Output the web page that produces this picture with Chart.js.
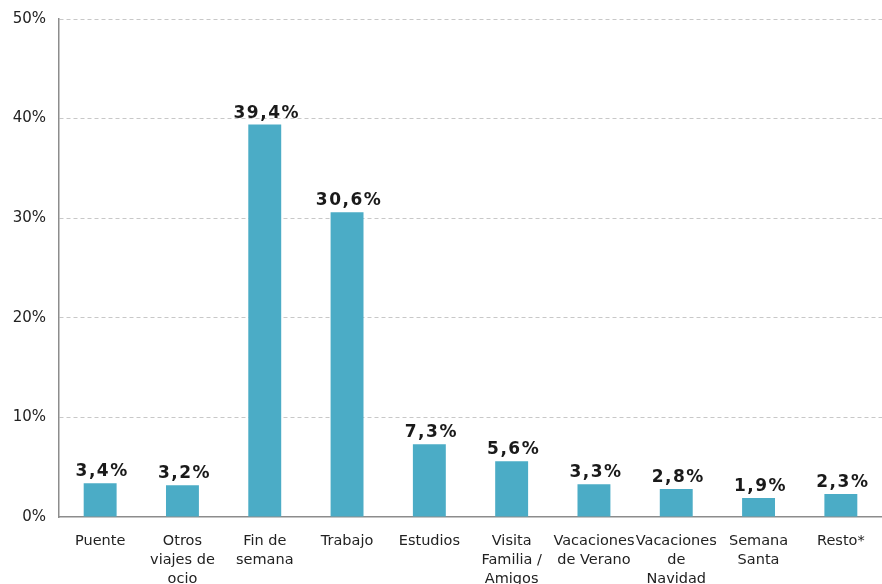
<!DOCTYPE html>
<html><head><meta charset="utf-8">
<script src="https://cdn.jsdelivr.net/npm/chart.js@4"></script>
<style>html,body{margin:0;padding:0;background:#fff}#wrap{width:882px;height:584px}</style>
</head><body><div id="wrap"><canvas id="c" width="882" height="584"></canvas></div>
<script>
const categories = [
  "Puente",
  ["Otros", "viajes de", "ocio"],
  ["Fin de", "semana"],
  "Trabajo",
  "Estudios",
  ["Visita", "Familia /", "Amigos"],
  ["Vacaciones", "de Verano"],
  ["Vacaciones", "de", "Navidad"],
  ["Semana", "Santa"],
  "Resto*"
];
const values = [3.4, 3.2, 39.4, 30.6, 7.3, 5.6, 3.3, 2.8, 1.9, 2.3];
const valueLabels = ["3,4%", "3,2%", "39,4%", "30,6%", "7,3%", "5,6%", "3,3%", "2,8%", "1,9%", "2,3%"];
const yTicks = [0, 10, 20, 30, 40, 50];

const labelPlugin = {
  id: 'valLabels',
  afterDatasetsDraw(chart) {
    const ctx = chart.ctx;
    const meta = chart.getDatasetMeta(0);
    ctx.save();
    ctx.font = 'bold 17px "DejaVu Sans"';
    ctx.fillStyle = '#1a1a1a';
    ctx.textAlign = 'center';
    ctx.textBaseline = 'alphabetic';
    try { ctx.letterSpacing = '1.5px'; } catch (e) {}
    meta.data.forEach((bar, i) => {
      ctx.fillText(valueLabels[i], bar.x + 2, bar.y - 7);
    });
    ctx.restore();
  }
};

new Chart(document.getElementById('c'), {
  type: 'bar',
  data: {
    labels: categories,
    datasets: [{
      data: values,
      backgroundColor: '#4BACC6',
      borderWidth: 0,
      categoryPercentage: 1,
      barPercentage: 0.4
    }]
  },
  options: {
    responsive: false,
    animation: false,
    layout: { padding: { top: 12, right: 0, left: 0, bottom: 0 } },
    plugins: { legend: { display: false }, tooltip: { enabled: false } },
    scales: {
      x: {
        grid: { display: false, drawTicks: false },
        border: { color: '#8c8c8c', width: 1.5 },
        ticks: {
          color: '#222',
          font: { family: '"DejaVu Sans"', size: 14.5, lineHeight: 1.3 },
          padding: 15,
          maxRotation: 0,
          autoSkip: false
        },
        afterFit(s) { s.height = 67; }
      },
      y: {
        min: 0, max: 50,
        afterBuildTicks(s) { s.ticks = yTicks.map(v => ({ value: v })); },
        grid: {
          color: (c) => c.tick && c.tick.value === 0 ? 'rgba(0,0,0,0)' : '#c8c8c8',
          drawTicks: false
        },
        border: { color: '#8c8c8c', width: 1.5, dash: [4, 3] },
        ticks: {
          color: '#222',
          font: { family: '"DejaVu Sans"', size: 15, lineHeight: 0.8 },
          padding: 13,
          callback: (v) => v + '%'
        },
        afterFit(s) { s.width = 59; }
      }
    }
  },
  plugins: [labelPlugin]
});
</script>
</body></html>
